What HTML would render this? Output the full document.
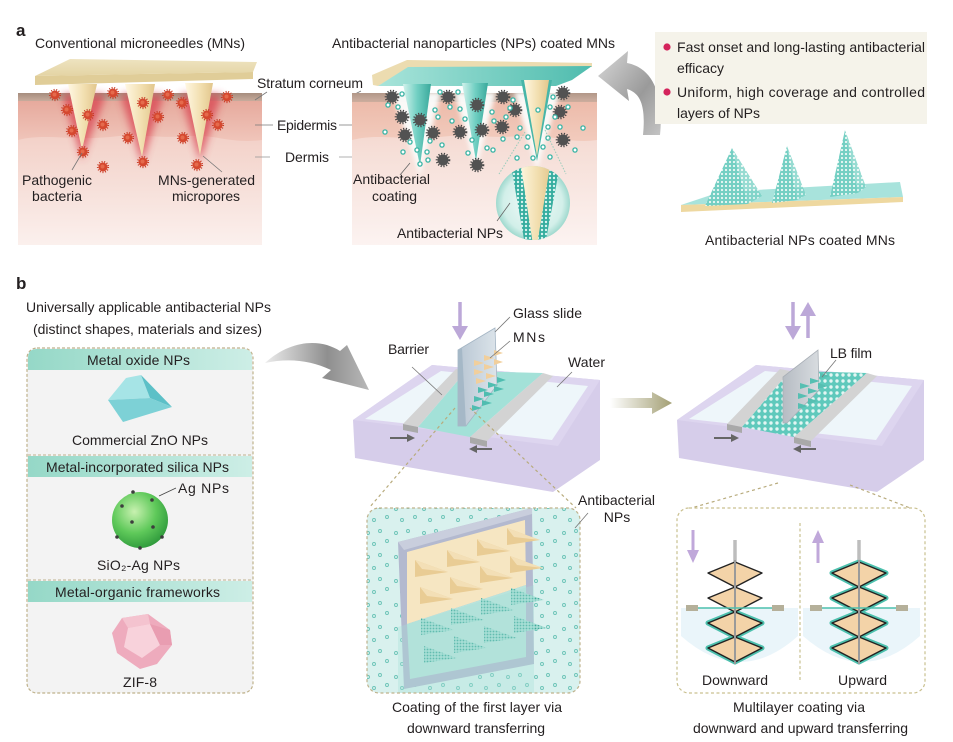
<!DOCTYPE html>
<html><head><meta charset="utf-8">
<style>
html,body{margin:0;padding:0;background:#fff;}
svg{display:block;}
text{font-family:"Liberation Sans",Arial,sans-serif;fill:#231f20;font-size:14px;}
</style></head><body>
<svg width="953" height="742" viewBox="0 0 953 742" xmlns="http://www.w3.org/2000/svg" xmlns:xlink="http://www.w3.org/1999/xlink">
<defs>
 <filter id="blur4" x="-50%" y="-50%" width="200%" height="200%"><feGaussianBlur stdDeviation="4"/></filter>
 <filter id="blur2" x="-50%" y="-50%" width="200%" height="200%"><feGaussianBlur stdDeviation="2.5"/></filter>
 <linearGradient id="dermA" x1="0" y1="0" x2="0" y2="1">
  <stop offset="0" stop-color="#efc3b8"/><stop offset="0.4" stop-color="#f4d6ce"/><stop offset="1" stop-color="#fbf0ed"/>
 </linearGradient>
 <linearGradient id="dermB" x1="0" y1="0" x2="0" y2="1">
  <stop offset="0" stop-color="#f2cdc2"/><stop offset="0.4" stop-color="#f6dfd8"/><stop offset="1" stop-color="#fcf3f1"/>
 </linearGradient>
 <linearGradient id="epiA" x1="0" y1="0" x2="0" y2="1">
  <stop offset="0" stop-color="#e6a99c"/><stop offset="1" stop-color="#f0c5ba"/>
 </linearGradient>
 <linearGradient id="epiB" x1="0" y1="0" x2="0" y2="1">
  <stop offset="0" stop-color="#ecbaa9"/><stop offset="1" stop-color="#f2cbbd"/>
 </linearGradient>
 <linearGradient id="strat" x1="0" y1="0" x2="0" y2="1">
  <stop offset="0" stop-color="#a68d7e"/><stop offset="1" stop-color="#c7ab9c"/>
 </linearGradient>
 <linearGradient id="cone" x1="0" y1="0" x2="1" y2="0">
  <stop offset="0" stop-color="#fff7e2"/><stop offset="0.55" stop-color="#f2dfb0"/><stop offset="1" stop-color="#e2c68c"/>
 </linearGradient>
 <linearGradient id="tcone" x1="0" y1="0" x2="1" y2="0">
  <stop offset="0" stop-color="#d2f2ec"/><stop offset="0.5" stop-color="#72d0c3"/><stop offset="1" stop-color="#3aa99c"/>
 </linearGradient>
 <linearGradient id="plateTop" x1="0" y1="0" x2="0" y2="1">
  <stop offset="0" stop-color="#eee3c0"/><stop offset="1" stop-color="#e4d4a4"/>
 </linearGradient>
 <linearGradient id="plateTeal" x1="0" y1="0" x2="1" y2="0">
  <stop offset="0" stop-color="#a8e4da"/><stop offset="1" stop-color="#4fbcae"/>
 </linearGradient>
 <linearGradient id="grayArrA" x1="0" y1="0" x2="1" y2="1">
  <stop offset="0" stop-color="#d8d8d8"/><stop offset="0.6" stop-color="#9a9a9a"/><stop offset="1" stop-color="#c4c4c4"/>
 </linearGradient>
 <linearGradient id="grayArrB" x1="0" y1="0" x2="1" y2="0">
  <stop offset="0" stop-color="#ececec"/><stop offset="0.6" stop-color="#8f8f8f"/><stop offset="1" stop-color="#b8b8b8"/>
 </linearGradient>
 <linearGradient id="olive" x1="0" y1="0" x2="1" y2="0">
  <stop offset="0" stop-color="#ffffff"/><stop offset="1" stop-color="#a39f74"/>
 </linearGradient>
 <linearGradient id="band" x1="0" y1="0" x2="1" y2="0">
  <stop offset="0" stop-color="#95d8c7"/><stop offset="1" stop-color="#cdeee6"/>
 </linearGradient>
 <radialGradient id="sphere" cx="0.4" cy="0.35" r="0.7">
  <stop offset="0" stop-color="#c8f1b0"/><stop offset="0.55" stop-color="#5fc95a"/><stop offset="1" stop-color="#2c973a"/>
 </radialGradient>
 <radialGradient id="magC" cx="0.5" cy="0.5" r="0.5">
  <stop offset="0" stop-color="#f4fbfa"/><stop offset="0.8" stop-color="#d2efe9"/><stop offset="1" stop-color="#9fd9ce"/>
 </radialGradient>
 <linearGradient id="slideG" x1="0" y1="0" x2="1" y2="0">
  <stop offset="0" stop-color="#b8c6d3"/><stop offset="1" stop-color="#dce4ea"/>
 </linearGradient>
 <linearGradient id="slide2G" x1="0" y1="0" x2="1" y2="0">
  <stop offset="0" stop-color="#b6bcc3"/><stop offset="1" stop-color="#d8dce0"/>
 </linearGradient>
 <pattern id="pyr" width="4" height="4" patternUnits="userSpaceOnUse">
  <rect width="4" height="4" fill="#74cfc3"/><circle cx="2" cy="2" r="1.1" fill="#eef9f6"/>
 </pattern>
 <pattern id="lb" width="6" height="6" patternUnits="userSpaceOnUse">
  <rect width="6" height="6" fill="#5fc9bc"/><circle cx="3" cy="3" r="1.7" fill="#e3f6f3"/>
 </pattern>
 <pattern id="strip" width="4" height="4" patternUnits="userSpaceOnUse">
  <rect width="4" height="4" fill="#35ad9f"/><circle cx="2" cy="2" r="1.2" fill="#d8f3ef"/>
 </pattern>
 <pattern id="tmn" width="3" height="3" patternUnits="userSpaceOnUse">
  <rect width="3" height="3" fill="#a6ded4"/><circle cx="1.5" cy="1.5" r="0.9" fill="#3faa9b"/>
 </pattern>
 <pattern id="bdots" width="28" height="24" patternUnits="userSpaceOnUse">
  <rect width="28" height="24" fill="#d9f1ee"/>
  <circle cx="4" cy="5" r="1.5" fill="none" stroke="#6cc4b7" stroke-width="0.9"/>
  <circle cx="16" cy="3" r="1.5" fill="none" stroke="#6cc4b7" stroke-width="0.9"/>
  <circle cx="23" cy="13" r="1.5" fill="none" stroke="#6cc4b7" stroke-width="0.9"/>
  <circle cx="10" cy="16" r="1.5" fill="none" stroke="#6cc4b7" stroke-width="0.9"/>
 </pattern>
 <g id="rb"><circle r="5.3" fill="none" stroke="#c53a25" stroke-width="1.6" stroke-dasharray="1 1.6"/><circle r="4.5" fill="#d5482f"/><circle r="2" cx="-0.5" cy="-0.5" fill="#e56a4c"/></g>
 <g id="db"><circle r="6.4" fill="none" stroke="#464646" stroke-width="1.8" stroke-dasharray="1.2 1.6"/><circle r="5.5" fill="#525252"/></g>
 <g id="td"><circle r="2.1" fill="#fff" stroke="#3fb5a6" stroke-width="1.3"/></g>
 <clipPath id="magClip"><circle cx="533" cy="203" r="37"/></clipPath>
 <clipPath id="box1Clip"><rect x="367" y="508" width="213" height="185" rx="12"/></clipPath>
 <g id="troughBase">
  <polygon points="432,365 600,380 600,460 553,492 355,458 353,420" fill="#d6cdea"/>
  <polygon points="432,365 600,380 558,446 353,420" fill="#ddd5ef"/>
  <polygon points="441,371 588,386 552,440 365,419" fill="#eef6fa"/>
 </g>
 <g id="barriers">
  <polygon points="403,424 418,427 466,371 456,369" fill="#d3d3d3"/>
  <polygon points="403,424 418,427 418,433 403,430" fill="#a9a9a9"/>
  <polygon points="470,437 487,441 553,376 543,373" fill="#d3d3d3"/>
  <polygon points="470,437 487,441 487,447 470,443" fill="#a9a9a9"/>
 </g>
 <g id="troughArrows">
  <line x1="390" y1="438" x2="408" y2="438" stroke="#666" stroke-width="2"/>
  <polygon points="407,434 415,438 407,442" fill="#666"/>
  <line x1="492" y1="449" x2="476" y2="449" stroke="#666" stroke-width="2"/>
  <polygon points="477,445 469,449 477,453" fill="#666"/>
 </g>
</defs>

<!-- ================= PANEL A ================= -->
<text x="16" y="36" style="font-size:17px;font-weight:bold">a</text>
<text x="35" y="48" textLength="210">Conventional microneedles (MNs)</text>
<text x="332" y="48" textLength="283">Antibacterial nanoparticles (NPs) coated MNs</text>

<!-- left skin -->
<rect x="18" y="93" width="244" height="152" fill="url(#dermA)"/>
<path d="M18,100 H262 V140 C230,144 215,134 190,136 C160,139 140,133 110,137 C70,141 45,133 18,140 Z" fill="url(#epiA)"/>
<rect x="18" y="93" width="244" height="8" fill="url(#strat)"/>
<g filter="url(#blur4)" opacity="0.7">
 <polygon points="62,94 106,94 82,160" fill="#d83a48"/>
 <polygon points="120,94 164,94 142,164" fill="#d83a48"/>
 <polygon points="180,94 222,94 200,162" fill="#d83a48"/>
</g>
<!-- plate -->
<polygon points="70,59 257,62 253,72 35,76" fill="url(#plateTop)"/>
<polygon points="35,76 253,72 253,79 35,85" fill="#e0cd98"/>
<!-- needles -->
<polygon points="68,84 97,84 82,150" fill="url(#cone)"/>
<polygon points="125,84 155,84 142,157" fill="url(#cone)"/>
<polygon points="185,83 213,83 200,155" fill="url(#cone)"/>
<!-- red bacteria -->
<use href="#rb" x="55" y="95"/><use href="#rb" x="67" y="110"/><use href="#rb" x="88" y="115"/>
<use href="#rb" x="72" y="131"/><use href="#rb" x="103" y="125"/><use href="#rb" x="83" y="152"/>
<use href="#rb" x="103" y="167"/><use href="#rb" x="113" y="93"/><use href="#rb" x="143" y="103"/>
<use href="#rb" x="158" y="117"/><use href="#rb" x="128" y="138"/><use href="#rb" x="143" y="162"/>
<use href="#rb" x="168" y="95"/><use href="#rb" x="182" y="103"/><use href="#rb" x="183" y="138"/>
<use href="#rb" x="207" y="115"/><use href="#rb" x="218" y="125"/><use href="#rb" x="227" y="97"/>
<use href="#rb" x="197" y="165"/>
<!-- left labels -->
<line x1="82" y1="153" x2="72" y2="170" stroke="#777" stroke-width="0.8"/>
<line x1="203" y1="156" x2="222" y2="172" stroke="#777" stroke-width="0.8"/>
<text x="22" y="185" textLength="70">Pathogenic</text>
<text x="32" y="201" textLength="50">bacteria</text>
<text x="158" y="185" textLength="97">MNs-generated</text>
<text x="172" y="201" textLength="68">micropores</text>

<!-- middle labels -->
<text x="257" y="88" textLength="106">Stratum corneum</text>
<line x1="255" y1="100" x2="267" y2="92" stroke="#777" stroke-width="0.8"/>
<line x1="353" y1="95" x2="361" y2="91" stroke="#777" stroke-width="0.8"/>
<text x="277" y="130" textLength="60">Epidermis</text>
<line x1="255" y1="125" x2="273" y2="125" stroke="#777" stroke-width="0.8"/>
<line x1="339" y1="125" x2="357" y2="125" stroke="#777" stroke-width="0.8"/>
<text x="285" y="162" textLength="44">Dermis</text>
<line x1="255" y1="157" x2="270" y2="157" stroke="#999" stroke-width="0.8"/>
<line x1="339" y1="157" x2="357" y2="157" stroke="#999" stroke-width="0.8"/>

<!-- middle skin -->
<rect x="352" y="93" width="245" height="152" fill="url(#dermB)"/>
<path d="M352,100 H597 V140 C570,144 550,134 520,136 C490,139 470,133 440,137 C400,141 380,133 352,140 Z" fill="url(#epiB)"/>
<rect x="352" y="93" width="245" height="9" fill="url(#strat)" opacity="0.85"/>
<g filter="url(#blur2)" opacity="0.95">
 <polygon points="392,92 441,92 420,176" fill="#fbfdfc"/>
 <polygon points="454,92 496,92 476,170" fill="#fbfdfc"/>
 <polygon points="514,92 560,92 537,170" fill="#fbfdfc"/>
</g>
<!-- middle plate -->
<polygon points="372,75 407,60 592,63 592,67 408,68 378,86 373,85" fill="#ecdcb0"/>
<polygon points="408,67 592,66 572,80 556,86 378,86" fill="url(#plateTeal)"/>
<!-- teal needles -->
<polygon points="403,84 431,84 420,166" fill="url(#tcone)"/>
<polygon points="462,83 488,83 476,161" fill="url(#tcone)"/>
<polygon points="521,80 552,80 537,161" fill="#47b6a8"/>
<polygon points="524,80 549,80 537,156" fill="url(#cone)"/>
<!-- dark bacteria -->
<use href="#db" x="392" y="97"/><use href="#db" x="402" y="117"/><use href="#db" x="420" y="120"/>
<use href="#db" x="405" y="135"/><use href="#db" x="433" y="133"/><use href="#db" x="448" y="97"/>
<use href="#db" x="477" y="105"/><use href="#db" x="460" y="132"/><use href="#db" x="482" y="130"/>
<use href="#db" x="443" y="160"/><use href="#db" x="477" y="165"/><use href="#db" x="503" y="97"/>
<use href="#db" x="515" y="110"/><use href="#db" x="502" y="127"/><use href="#db" x="563" y="93"/>
<use href="#db" x="560" y="112"/><use href="#db" x="563" y="140"/>
<!-- teal dots -->
<use href="#td" x="402" y="94"/><use href="#td" x="388" y="105"/><use href="#td" x="398" y="107"/>
<use href="#td" x="385" y="132"/><use href="#td" x="410" y="142"/><use href="#td" x="403" y="152"/>
<use href="#td" x="417" y="150"/><use href="#td" x="420" y="164"/><use href="#td" x="427" y="152"/>
<use href="#td" x="428" y="160"/><use href="#td" x="440" y="92"/><use href="#td" x="435" y="110"/>
<use href="#td" x="438" y="117"/><use href="#td" x="450" y="107"/><use href="#td" x="458" y="92"/>
<use href="#td" x="460" y="109"/><use href="#td" x="465" y="119"/><use href="#td" x="442" y="145"/>
<use href="#td" x="452" y="121"/><use href="#td" x="430" y="141"/><use href="#td" x="472" y="140"/>
<use href="#td" x="487" y="148"/><use href="#td" x="493" y="150"/><use href="#td" x="468" y="153"/>
<use href="#td" x="492" y="112"/><use href="#td" x="494" y="121"/><use href="#td" x="506" y="117"/>
<use href="#td" x="510" y="108"/><use href="#td" x="513" y="100"/><use href="#td" x="503" y="139"/>
<use href="#td" x="517" y="137"/><use href="#td" x="520" y="128"/><use href="#td" x="517" y="158"/>
<use href="#td" x="527" y="147"/><use href="#td" x="528" y="137"/><use href="#td" x="533" y="158"/>
<use href="#td" x="543" y="147"/><use href="#td" x="548" y="138"/><use href="#td" x="550" y="157"/>
<use href="#td" x="550" y="107"/><use href="#td" x="553" y="97"/><use href="#td" x="555" y="117"/>
<use href="#td" x="560" y="127"/><use href="#td" x="568" y="107"/><use href="#td" x="548" y="127"/>
<use href="#td" x="538" y="110"/><use href="#td" x="575" y="150"/><use href="#td" x="583" y="128"/>
<!-- magnified circle -->
<line x1="525" y1="132" x2="499" y2="174" stroke="#9cb" stroke-width="1" stroke-dasharray="1.5 1.5"/>
<line x1="545" y1="130" x2="566" y2="174" stroke="#9cb" stroke-width="1" stroke-dasharray="1.5 1.5"/>
<circle cx="533" cy="203" r="37" fill="url(#magC)"/>
<g clip-path="url(#magClip)">
 <polygon points="519,160 552,160 538,245 532,245" fill="url(#cone)"/>
 <polygon points="510,160 520,160 533,245 525,245" fill="url(#strip)"/>
 <polygon points="551,160 561,160 545,245 537,245" fill="url(#strip)"/>
</g>
<line x1="510" y1="203" x2="497" y2="221" stroke="#666" stroke-width="0.8"/>
<line x1="410" y1="163" x2="400" y2="175" stroke="#666" stroke-width="0.8"/>
<text x="353" y="184" textLength="77">Antibacterial</text>
<text x="372" y="201" textLength="45">coating</text>
<text x="397" y="238" textLength="106">Antibacterial NPs</text>

<!-- curved arrow a -->
<path d="M643,135 C646,105 640,93 627,89 L629,101 L598,76 L628,51 L627,63 C653,68 664,95 660,135 Z" fill="url(#grayArrA)"/>

<!-- right panel a -->
<rect x="655" y="32" width="272" height="92" fill="#f5f3ea"/>
<circle cx="667" cy="47" r="3.6" fill="#d4245c"/>
<circle cx="667" cy="92" r="3.6" fill="#d4245c"/>
<text x="677" y="52" textLength="248">Fast onset and long-lasting antibacterial</text>
<text x="677" y="73" textLength="47">efficacy</text>
<text x="677" y="97" textLength="248">Uniform, high coverage and controlled</text>
<text x="677" y="118" textLength="83">layers of NPs</text>
<!-- MN array -->
<polygon points="681,205 720,192 900,182 903,197" fill="#a8e3dc"/>
<polygon points="681,205 903,197 903,202 681,212" fill="#eed8a0"/>
<polygon points="732,148 705,206 748,204" fill="url(#pyr)"/>
<polygon points="732,148 748,204 762,196" fill="url(#pyr)" opacity="0.75"/>
<polygon points="787,146 772,203 797,200" fill="url(#pyr)"/>
<polygon points="787,146 797,200 806,195" fill="url(#pyr)" opacity="0.75"/>
<polygon points="845,130 830,197 858,193" fill="url(#pyr)"/>
<polygon points="845,130 858,193 866,187" fill="url(#pyr)" opacity="0.75"/>
<text x="705" y="245" textLength="190">Antibacterial NPs coated MNs</text>

<!-- ================= PANEL B ================= -->
<text x="16" y="289" style="font-size:17px;font-weight:bold">b</text>
<text x="26" y="312" textLength="245">Universally applicable antibacterial NPs</text>
<text x="33" y="334" textLength="229">(distinct shapes, materials and sizes)</text>

<rect x="27" y="348" width="226" height="345" rx="10" fill="#f3f3f3" stroke="#bfb28c" stroke-width="1.2" stroke-dasharray="3 2"/>
<path d="M28,370 V358 Q28,349 37,349 H243 Q252,349 252,358 V370 Z" fill="url(#band)"/>
<rect x="28" y="456" width="224" height="21" fill="url(#band)"/>
<rect x="28" y="581" width="224" height="21" fill="url(#band)"/>
<line x1="28" y1="455" x2="252" y2="455" stroke="#bfb28c" stroke-width="1" stroke-dasharray="3 2"/>
<line x1="28" y1="580" x2="252" y2="580" stroke="#bfb28c" stroke-width="1" stroke-dasharray="3 2"/>
<text x="87" y="365" textLength="103">Metal oxide NPs</text>
<!-- ZnO -->
<polygon points="108,400 126,378 141,375 150,398" fill="#a6e4e6"/>
<polygon points="141,375 172,407 150,398" fill="#5cc0c7"/>
<polygon points="108,400 150,398 172,407 123,422" fill="#7dd1d6"/>
<text x="72" y="445" textLength="136">Commercial ZnO NPs</text>
<text x="46" y="472" textLength="183">Metal-incorporated silica NPs</text>
<!-- sphere -->
<circle cx="140" cy="520" r="28" fill="url(#sphere)"/>
<g fill="#3d3d3d">
 <circle cx="133" cy="492" r="1.8"/><circle cx="152" cy="500" r="1.8"/><circle cx="122" cy="506" r="1.8"/>
 <circle cx="132" cy="522" r="1.8"/><circle cx="153" cy="527" r="1.8"/><circle cx="117" cy="537" r="1.8"/>
 <circle cx="162" cy="537" r="1.8"/><circle cx="140" cy="548" r="1.8"/>
</g>
<line x1="159" y1="496" x2="176" y2="488" stroke="#444" stroke-width="0.8"/>
<text x="178" y="493" textLength="51">Ag NPs</text>
<text x="97" y="570" textLength="83">SiO₂-Ag NPs</text>
<text x="55" y="597" textLength="165">Metal-organic frameworks</text>
<!-- ZIF-8 -->
<polygon points="112,633 122,618 148,614 170,630 172,645 157,664 140,669 117,653" fill="#eeabbd"/>
<polygon points="122,618 148,614 150,624 128,628" fill="#f4c3cf"/>
<polygon points="128,628 150,624 160,645 142,658 124,647" fill="#f8d2db"/>
<polygon points="150,624 170,630 172,645 160,645" fill="#e99db1"/>
<text x="123" y="687" textLength="34">ZIF-8</text>

<!-- big gray arrow b -->
<path d="M265,363 C290,340 320,338 340,351 L347,345 L369,390 L322,378 L331,370 C310,360 288,358 265,363 Z" fill="url(#grayArrB)"/>

<!-- trough 1 -->
<use href="#troughBase"/>
<polygon points="418,427 470,437 543,373 466,371" fill="#a3e1d8"/>
<use href="#barriers"/>
<polygon points="458,350 495,328 497,385 466,426 458,426" fill="url(#slideG)" stroke="#a4b5c4" stroke-width="0.8"/>
<polygon points="458,350 462,348 466,426 458,426" fill="#a5b8c7"/>
<g fill="#f1cf9c">
 <path d="M474,360 l10,3 l-10,3 z"/><path d="M484,355 l10,3 l-10,3 z"/><path d="M494,350 l9,3 l-9,3 z"/>
 <path d="M474,369 l10,3 l-10,3 z"/><path d="M484,364 l10,3 l-10,3 z"/><path d="M494,359 l9,3 l-9,3 z"/>
 <path d="M476,378 l10,3 l-10,3 z"/><path d="M486,373 l10,3 l-10,3 z"/>
</g>
<g fill="#4fbdb0">
 <path d="M478,387 l10,3 l-10,3 z"/><path d="M488,382 l10,3 l-10,3 z"/><path d="M497,377 l9,3 l-9,3 z"/>
 <path d="M474,396 l10,3 l-10,3 z"/><path d="M484,391 l10,3 l-10,3 z"/><path d="M494,386 l10,3 l-10,3 z"/>
 <path d="M472,405 l10,3 l-10,3 z"/><path d="M482,400 l10,3 l-10,3 z"/>
</g>
<use href="#troughArrows"/>
<line x1="460" y1="302" x2="460" y2="328" stroke="#bca8d8" stroke-width="3.5"/>
<polygon points="452,326 468,326 460,340" fill="#bca8d8"/>
<line x1="510" y1="317" x2="495" y2="332" stroke="#777" stroke-width="0.8"/>
<line x1="510" y1="341" x2="490" y2="358" stroke="#777" stroke-width="0.8"/>
<line x1="412" y1="367" x2="442" y2="395" stroke="#777" stroke-width="0.8"/>
<line x1="572" y1="372" x2="557" y2="387" stroke="#777" stroke-width="0.8"/>
<text x="513" y="318" textLength="69">Glass slide</text>
<text x="513" y="342" textLength="32">MNs</text>
<text x="388" y="354" textLength="41">Barrier</text>
<text x="568" y="367" textLength="37">Water</text>

<!-- olive arrow -->
<path d="M610,398 L652,398 L652,392 L672,403 L652,414 L652,408 L610,408 Z" fill="url(#olive)"/>

<!-- trough 2 -->
<use href="#troughBase" x="324"/>
<polygon points="742,427 794,437 867,373 790,371" fill="url(#lb)"/>
<use href="#barriers" x="324"/>
<polygon points="783,377 818,350 819,390 787,423 783,423" fill="url(#slide2G)" stroke="#a9afb6" stroke-width="0.8"/>
<g fill="#56bfb2">
 <path d="M800,383 l10,3 l-10,3 z"/><path d="M810,378 l10,3 l-10,3 z"/><path d="M820,373 l10,3 l-10,3 z"/>
 <path d="M798,393 l10,3 l-10,3 z"/><path d="M808,388 l10,3 l-10,3 z"/><path d="M818,383 l10,3 l-10,3 z"/>
 <path d="M798,403 l10,3 l-10,3 z"/><path d="M808,398 l10,3 l-10,3 z"/>
</g>
<use href="#troughArrows" x="324"/>
<line x1="793" y1="302" x2="793" y2="328" stroke="#bca8d8" stroke-width="3.5"/>
<polygon points="785,326 801,326 793,340" fill="#bca8d8"/>
<line x1="808" y1="314" x2="808" y2="338" stroke="#bca8d8" stroke-width="3.5"/>
<polygon points="800,316 816,316 808,302" fill="#bca8d8"/>
<line x1="836" y1="360" x2="822" y2="377" stroke="#777" stroke-width="0.8"/>
<text x="830" y="358" textLength="42">LB film</text>

<!-- dashed connectors -->
<g stroke="#b8ab7c" stroke-width="1.2" stroke-dasharray="3 3" fill="none">
 <line x1="455" y1="408" x2="369" y2="508"/>
 <line x1="470" y1="408" x2="576" y2="508"/>
 <line x1="778" y1="483" x2="681" y2="511"/>
 <line x1="850" y1="485" x2="918" y2="511"/>
</g>

<!-- magnified box 1 -->
<rect x="367" y="508" width="213" height="185" rx="12" fill="url(#bdots)"/>
<g clip-path="url(#box1Clip)">
 <polygon points="398,542 532,508 534,664 404,689" fill="#b3b9cf"/>
 <polygon points="398,542 532,508 532,514 404,550" fill="#c9cedd"/>
 <polygon points="407,552 525,520 526,585 407,624" fill="#f6e6c2"/>
 <polygon points="407,624 526,585 526,657 410,679" fill="#b9e4dc"/>
 <g>
  <polygon points="415,560 448,572 415,577" fill="#e9cc94"/><polygon points="415,560 448,572 422,569" fill="#f3dfb6"/>
  <polygon points="447,550 480,562 447,567" fill="#e9cc94"/><polygon points="447,550 480,562 454,559" fill="#f3dfb6"/>
  <polygon points="477,539 510,551 477,556" fill="#e9cc94"/><polygon points="477,539 510,551 484,548" fill="#f3dfb6"/>
  <polygon points="507,528 540,540 507,545" fill="#e9cc94"/><polygon points="507,528 540,540 514,537" fill="#f3dfb6"/>
  <polygon points="420,587 453,599 420,604" fill="#e9cc94"/><polygon points="420,587 453,599 427,596" fill="#f3dfb6"/>
  <polygon points="450,577 483,589 450,594" fill="#e9cc94"/><polygon points="450,577 483,589 457,586" fill="#f3dfb6"/>
  <polygon points="480,566 513,578 480,583" fill="#e9cc94"/><polygon points="480,566 513,578 487,575" fill="#f3dfb6"/>
  <polygon points="510,556 543,568 510,573" fill="#e9cc94"/><polygon points="510,556 543,568 517,565" fill="#f3dfb6"/>
 </g>
 <g fill="url(#tmn)">
  <polygon points="421,618 454,630 421,635"/><polygon points="451,608 484,620 451,625"/>
  <polygon points="481,598 514,610 481,615"/><polygon points="511,588 544,600 511,605"/>
  <polygon points="424,646 457,658 424,663"/><polygon points="454,636 487,648 454,653"/>
  <polygon points="484,626 517,638 484,643"/><polygon points="514,616 547,628 514,633"/>
 </g>
 <polygon points="398,627 534,585 534,700 398,700" fill="#a6e0d8" opacity="0.35"/>
</g>
<rect x="367" y="508" width="213" height="185" rx="12" fill="none" stroke="#bfb28c" stroke-width="1.2" stroke-dasharray="3 2.5"/>
<line x1="588" y1="513" x2="575" y2="528" stroke="#777" stroke-width="0.8"/>
<text x="578" y="505" textLength="77">Antibacterial</text>
<text x="617" y="522" text-anchor="middle">NPs</text>
<text x="392" y="712" textLength="170">Coating of the first layer via</text>
<text x="407" y="733" textLength="138">downward transferring</text>

<!-- magnified box 2 -->
<rect x="677" y="508" width="248" height="185" rx="12" fill="#fff" stroke="#c9c08f" stroke-width="1.2" stroke-dasharray="3 2.5"/>
<line x1="800" y1="523" x2="800" y2="680" stroke="#c9c08f" stroke-width="1.2" stroke-dasharray="3 2.5"/>
<!-- left (Downward) -->
<path d="M681,608 H798 V636 Q740,688 681,636 Z" fill="#eaf5fa"/>
<line x1="735" y1="540" x2="735" y2="664" stroke="#bdbdbd" stroke-width="3.5"/>
<g stroke="#4cc0ad" stroke-width="5" stroke-linejoin="round" fill="none">
 <polyline points="735,612 708,623 735,637 708,648 735,662 762,648 735,637 762,623 735,612"/>
</g>
<g fill="#f3d3a8" stroke="#222" stroke-width="1.4" stroke-linejoin="round">
 <polygon points="735,562 708,573 735,587"/><polygon points="735,562 762,573 735,587"/>
 <polygon points="735,587 708,598 735,612"/><polygon points="735,587 762,598 735,612"/>
 <polygon points="735,612 708,623 735,637"/><polygon points="735,612 762,623 735,637"/>
 <polygon points="735,637 708,648 735,662"/><polygon points="735,637 762,648 735,662"/>
</g>
<line x1="735" y1="560" x2="735" y2="664" stroke="#9a9a9a" stroke-width="2"/>
<line x1="697" y1="608" x2="773" y2="608" stroke="#4cc0ad" stroke-width="1.5"/>
<rect x="686" y="605" width="12" height="6" fill="#b5b09a"/>
<rect x="772" y="605" width="12" height="6" fill="#b5b09a"/>
<line x1="693" y1="530" x2="693" y2="552" stroke="#c0a8da" stroke-width="3"/>
<polygon points="687,550 699,550 693,563" fill="#c0a8da"/>
<!-- right (Upward) -->
<path d="M803,608 H920 V636 Q862,688 803,636 Z" fill="#eaf5fa"/>
<line x1="859" y1="540" x2="859" y2="664" stroke="#bdbdbd" stroke-width="3.5"/>
<g stroke="#4cc0ad" stroke-width="5" stroke-linejoin="round" fill="none">
 <polyline points="859,562 832,573 859,587 832,598 859,612 832,623 859,637 832,648 859,662 886,648 859,637 886,623 859,612 886,598 859,587 886,573 859,562"/>
</g>
<g fill="#f3d3a8" stroke="#222" stroke-width="1.4" stroke-linejoin="round">
 <polygon points="859,562 832,573 859,587"/><polygon points="859,562 886,573 859,587"/>
 <polygon points="859,587 832,598 859,612"/><polygon points="859,587 886,598 859,612"/>
 <polygon points="859,612 832,623 859,637"/><polygon points="859,612 886,623 859,637"/>
 <polygon points="859,637 832,648 859,662"/><polygon points="859,637 886,648 859,662"/>
</g>
<line x1="859" y1="560" x2="859" y2="664" stroke="#9a9a9a" stroke-width="2"/>
<line x1="821" y1="608" x2="897" y2="608" stroke="#4cc0ad" stroke-width="1.5"/>
<rect x="810" y="605" width="12" height="6" fill="#b5b09a"/>
<rect x="896" y="605" width="12" height="6" fill="#b5b09a"/>
<line x1="818" y1="541" x2="818" y2="563" stroke="#c0a8da" stroke-width="3"/>
<polygon points="812,543 824,543 818,530" fill="#c0a8da"/>
<text x="702" y="685" textLength="66">Downward</text>
<text x="838" y="685" textLength="49">Upward</text>
<text x="733" y="712" textLength="132">Multilayer coating via</text>
<text x="693" y="733" textLength="215">downward and upward transferring</text>
</svg>
</body></html>
